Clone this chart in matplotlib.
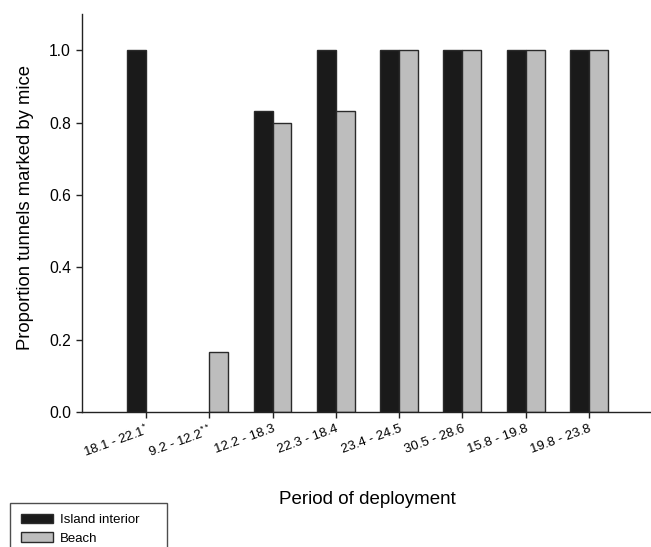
import matplotlib
matplotlib.use("Agg")
import matplotlib.pyplot as plt
from matplotlib.patches import Patch
import numpy as np

plt.rcParams['font.family'] = ['Liberation Sans', 'DejaVu Sans']
plt.rcParams['mathtext.fontset'] = 'custom'
plt.rcParams['mathtext.rm'] = 'Liberation Sans'
plt.rcParams['mathtext.it'] = 'Liberation Sans'

categories = ["18.1 - 22.1$^{*}$", "9.2 - 12.2$^{**}$", "12.2 - 18.3", "22.3 - 18.4",
              "23.4 - 24.5", "30.5 - 28.6", "15.8 - 19.8", "19.8 - 23.8"]
island_interior = [1.0, 0.0, 0.833, 1.0, 1.0, 1.0, 1.0, 1.0]
beach = [0.0, 0.167, 0.8, 0.833, 1.0, 1.0, 1.0, 1.0]

c_island = '#1a1a1a'
c_beach = '#bdbdbd'
c_edge = '#2a2a2a'

fig = plt.figure(figsize=(6.51, 5.47), dpi=100)
ax = fig.add_axes([82/651, 1 - 412/547, 1 - 82/651, (412 - 14)/547])

x = np.arange(len(categories))
w = 0.3
b1 = ax.bar(x - w/2, island_interior, width=w, color=c_island, edgecolor=c_edge,
            linewidth=1.0)
b2 = ax.bar(x + w/2, beach, width=w, color=c_beach, edgecolor=c_edge,
            linewidth=1.0)
for bars, vals in ((b1, island_interior), (b2, beach)):
    for r, v in zip(bars, vals):
        if v == 0:
            r.set_visible(False)

ax.set_xlim(-1.01, 7.98)
ax.set_ylim(0, 1.1)
ax.set_yticks([0.0, 0.2, 0.4, 0.6, 0.8, 1.0])
ax.set_yticklabels(['0.0', '0.2', '0.4', '0.6', '0.8', '1.0'], fontsize=11.3)
ax.set_xticks(x)
ax.set_xticklabels(categories, rotation=20, ha='right', rotation_mode='anchor', fontsize=9.5)
ax.tick_params(axis='both', direction='out', length=4.5, width=1, color='#222222')
ax.tick_params(axis='x', pad=3)
ax.spines['top'].set_visible(False)
ax.spines['right'].set_visible(False)
for s in ['left', 'bottom']:
    ax.spines[s].set_linewidth(1.0)
    ax.spines[s].set_color('#222222')

fig.text(26/651, 1 - 208/547, 'Proportion tunnels marked by mice', fontsize=13.3,
         rotation=90, ha='center', va='center')
fig.text(367/651, 1 - 504/547, 'Period of deployment', fontsize=13.5,
         ha='center', va='baseline')

handles = [Patch(facecolor=c_island, edgecolor=c_edge, linewidth=1.0),
           Patch(facecolor=c_beach, edgecolor=c_edge, linewidth=1.0)]
leg = fig.legend(handles=handles, labels=['Island interior', 'Beach'],
                 loc='upper left', bbox_to_anchor=(10/651, 1 - 503/547 - 0.2, 157/651, 0.2),
                 bbox_transform=fig.transFigure, mode='expand', fontsize=9.5, frameon=True,
                 fancybox=False, edgecolor='#222222', borderaxespad=0,
                 handlelength=2.4, handleheight=0.7, labelspacing=0.45,
                 borderpad=0.85, handletextpad=0.55)
leg.get_frame().set_linewidth(1.0)

fig.savefig('out.png', dpi=100)
